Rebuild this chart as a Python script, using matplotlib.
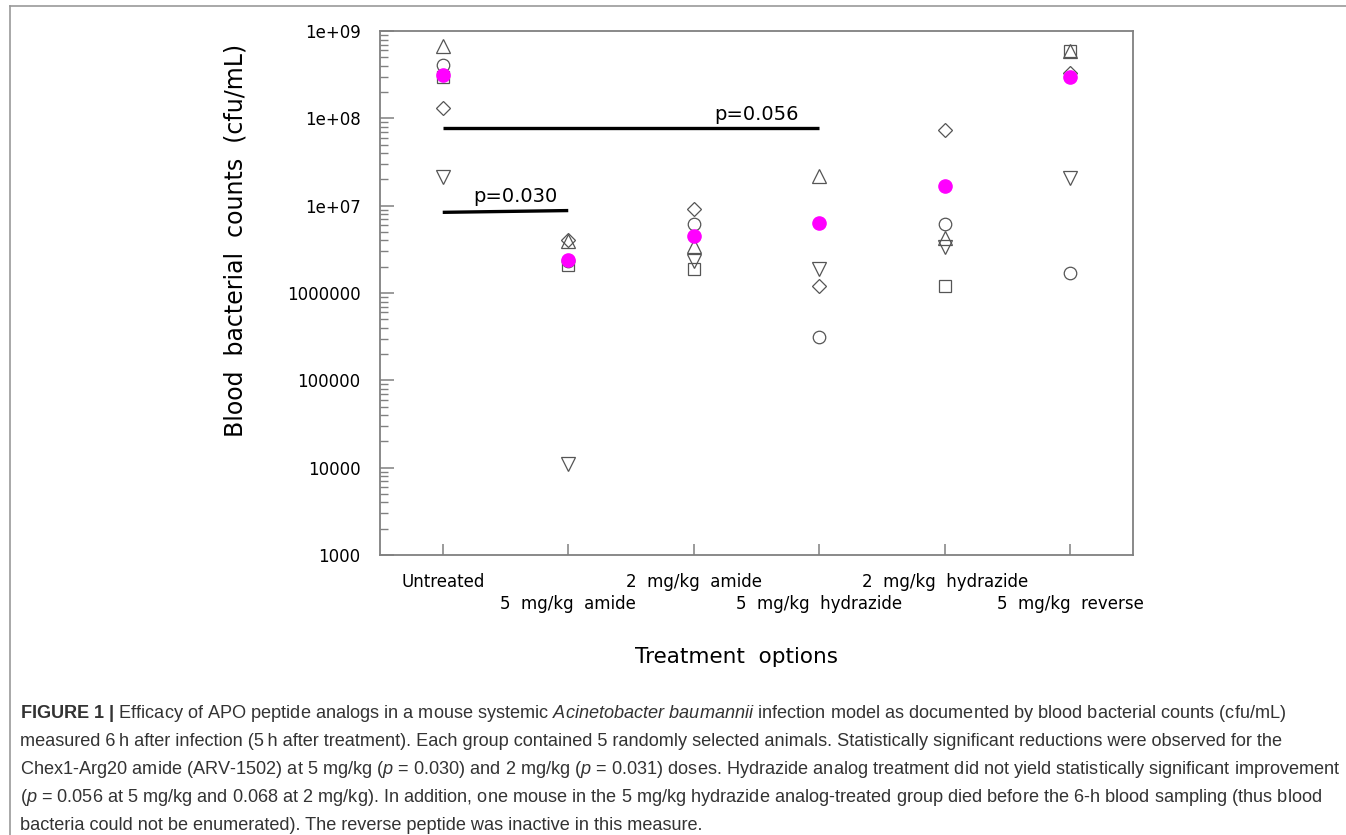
import numpy as np
import matplotlib
matplotlib.use("Agg")
import matplotlib.pyplot as plt
from matplotlib.ticker import NullFormatter, LogLocator
from matplotlib.lines import Line2D

# 數據 (讀自圖片)
groups = ['Untreated', '5  mg/kg  amide', '2  mg/kg  amide',
          '5  mg/kg  hydrazide', '2  mg/kg  hydrazide', '5  mg/kg  reverse']
circle = [4.1e8, 2.3e6, 6.1e6, 3.1e5, 6.1e6, 1.7e6]
square = [3.0e8, 2.1e6, 1.9e6, np.nan, 1.2e6, 5.9e8]
tri_up = [6.8e8, 3.9e6, 3.5e6, 2.2e7, 4.3e6, 5.9e8]
tri_down = [2.15e7, 1.1e4, 2.3e6, 1.9e6, 3.4e6, 2.05e7]
diamond = [1.3e8, 4.0e6, 9.1e6, 1.2e6, 7.3e7, 3.3e8]
mean = [3.1e8, 2.4e6, 4.5e6, 6.3e6, 1.7e7, 2.95e8]

ytick_vals = [1e3, 1e4, 1e5, 1e6, 1e7, 1e8, 1e9]
ytick_labels = ['1000', '10000', '100000', '1000000', '1e+07', '1e+08', '1e+09']

# 顯著性標記: (起點組, 終點組, 左端值, 右端值, 文字)
sig_lines = [(1, 2, 8.4e6, 8.8e6, 'p=0.030'),
             (1, 4, 7.7e7, 7.7e7, 'p=0.056')]

caption = [
    r'$\mathbf{FIGURE\ 1\ |}$ Efficacy of APO peptide analogs in a mouse systemic '
    r'$\mathit{Acinetobacter\ baumannii}$ infection model as documented by blood bacterial counts (cfu/mL)',
    'measured 6\u2009h after infection (5\u2009h after treatment). Each group contained 5 randomly selected '
    'animals. Statistically significant reductions were observed for the',
    r'Chex1-Arg20 amide (ARV-1502) at 5 mg/kg ($\mathit{p}$ = 0.030) and 2 mg/kg ($\mathit{p}$ = 0.031) '
    'doses. Hydrazide analog treatment did not yield statistically significant improvement',
    r'($\mathit{p}$ = 0.056 at 5 mg/kg and 0.068 at 2 mg/kg). In addition, one mouse in the 5 mg/kg '
    'hydrazide analog-treated group died before the 6-h blood sampling (thus blood',
    'bacteria could not be enumerated). The reverse peptide was inactive in this measure.',
]

plt.rcParams['mathtext.fontset'] = 'custom'
plt.rcParams['mathtext.rm'] = 'Liberation Sans'
plt.rcParams['mathtext.it'] = 'Liberation Sans:italic'
plt.rcParams['mathtext.bf'] = 'Liberation Sans:bold'

fig = plt.figure(figsize=(13.46, 8.35), dpi=100)
ax = fig.add_axes([0.2823, 0.3353, 0.5595, 0.6275])

x = np.arange(1, len(groups) + 1)
edge = '#555555'
kw = dict(ls='none', mfc='none', mec=edge, mew=0.9, zorder=3)
ax.plot(x, circle, marker='o', ms=9, **kw)
ax.plot(x, square, marker='s', ms=8.5, **kw)
ax.plot(x, tri_up, marker='^', ms=9.5, **kw)
ax.plot(x, tri_down, marker='v', ms=9.5, **kw)
ax.plot(x, diamond, marker='D', ms=7.5, **kw)
ax.plot(x, mean, ls='none', marker='o', ms=9.5, mfc='#ff00ff', mec='#ff00ff', zorder=4)

for g0, g1, v0, v1, lab in sig_lines:
    ax.plot([g0, g1], [v0, v1], color='black', lw=2.4, solid_capstyle='butt', zorder=2)
    ax.text((g0 + g1) / 2 + (0.08 if g1 - g0 == 1 else 1.0), max(v0, v1) * 1.12, lab,
            ha='center', va='bottom', fontsize=14, family='DejaVu Sans')

ax.set_yscale('log')
ax.set_ylim(1e3, 1e9)
ax.set_xlim(0.5, 6.5)
ax.set_yticks(ytick_vals, ytick_labels)
ax.yaxis.set_minor_locator(LogLocator(base=10, subs=np.arange(2, 10)))
ax.yaxis.set_minor_formatter(NullFormatter())
# 標籤交錯: 奇數組在上排, 偶數組在下排
ax.set_xticks(x[::2], groups[::2])
ax.set_xticks(x[1::2], groups[1::2], minor=True)

spine_c = '#808080'
for s in ax.spines.values():
    s.set_color(spine_c)
    s.set_linewidth(1.3)
ax.tick_params(axis='y', which='major', direction='in', length=10, width=1.1,
               color=spine_c, pad=14, labelsize=12)
ax.tick_params(axis='y', which='minor', direction='in', length=6, width=1.0, color=spine_c)
ax.tick_params(axis='x', which='major', direction='in', length=8, width=1.1, color=spine_c,
               pad=13, labelsize=12)
ax.tick_params(axis='x', which='minor', direction='in', length=8, width=1.1, color=spine_c,
               pad=29, labelsize=12)
for t in (ax.get_xticklabels() + ax.get_xticklabels(minor=True) + ax.get_yticklabels()):
    t.set_family('DejaVu Sans')

ax.set_ylabel('Blood  bacterial  counts  (cfu/mL)', fontsize=17, family='DejaVu Sans')
ax.yaxis.set_label_coords(-0.176, 0.601)
ax.set_xlabel('Treatment  options', fontsize=15.5, family='DejaVu Sans')
ax.xaxis.set_label_coords(0.474, -0.195)
ax.xaxis.label.set_va('center')

# 外框
fig.add_artist(Line2D([10 / 1346, 10 / 1346], [0, 1 - 6 / 835], transform=fig.transFigure,
                      color='#999999', lw=1.2))
fig.add_artist(Line2D([10 / 1346, 1], [1 - 6 / 835, 1 - 6 / 835], transform=fig.transFigure,
                      color='#999999', lw=1.2))

# 圖說
cap_texts = []
for i, line in enumerate(caption):
    yy = 1 - (713 + 28 * i) / 835
    cap_texts.append(fig.text(20 / 1346, yy, line, ha='left', va='center',
                              fontsize=12.5, family='Liberation Sans', color='#333333'))
fig.canvas.draw()
r = fig.canvas.get_renderer()
w = cap_texts[2].get_window_extent(r).width
scale = 1320 / w
for t in cap_texts:
    t.set_fontsize(12.5 * scale)

fig.savefig('out.png', dpi=100)
